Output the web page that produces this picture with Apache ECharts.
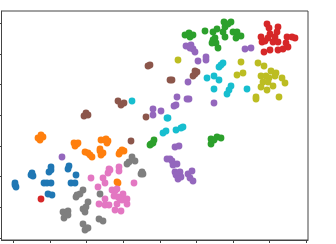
<!DOCTYPE html>
<html><head><meta charset="utf-8">
<style>html,body{margin:0;padding:0;background:#fff}#c{width:336px;height:244px}</style>
<script src="https://cdn.jsdelivr.net/npm/echarts@6/dist/echarts.min.js"></script></head>
<body><div id="c"></div>
<script>
const xTicks=[0.5,37.1,73.7,110.3,146.9,183.5,220.1,256.7,293.3];
const yTicks=[0,30.7,61.4,92.1,122.8,153.5,184.2,214.9];
const blue=[[2,55],[3,51],[2,53],[19,65],[20,62],[18,63],[38,71],[36,66],[38,68],[56,72],[55,69],[63,63],[31,55],[34,55],[38,55],[58,55],[62,55],[35,44],[39,43]];
const orange=[[25,100],[30,101],[27,98],[28,103],[61,95],[64,94],[62,92],[65,95],[72,86],[75,85],[77,83],[79,81],[88,98],[92,98],[95,97],[94,95],[93,99],[87,87],[90,85],[88,83],[87,89],[107,86],[109,88],[106,84],[111,87],[105,55],[104,56]];
const green=[[172,203],[176,205],[180,203],[177,201],[192,207],[200,206],[204,209],[211,216],[218,216],[212,211],[215,214],[210,206],[212,201],[220,206],[224,206],[228,202],[223,200],[200,198],[203,195],[205,190],[199,195],[202,200],[198,94],[198,99],[204,101],[208,100],[201,98],[138,94],[141,98],[140,95],[137,93]];
const red=[[28,39],[254,214],[256,210],[265,211],[264,206],[257,204],[262,201],[248,201],[255,200],[249,196],[252,197],[260,196],[265,196],[274,201],[279,201],[282,200],[273,195],[275,191],[270,189],[265,188],[257,188],[251,186]];
const purple=[[49,81],[154,79],[140,129],[140,123],[148,127],[173,192],[178,193],[180,189],[182,186],[177,190],[232,189],[238,190],[185,177],[193,181],[193,178],[175,156],[164,141],[163,133],[161,132],[176,139],[174,139],[201,135],[162,91],[166,92],[157,79],[159,77],[160,73],[164,74],[162,66],[167,66],[163,63],[168,61],[165,59],[175,64],[179,67],[177,60],[180,57]];
const brown=[[135,172],[137,173],[105,137],[111,135],[108,133],[73,125],[75,123],[71,122],[133,121],[118,97],[159,158],[157,158],[182,167],[184,166],[180,162],[182,164]];
const pink=[[78,60],[85,51],[90,60],[92,55],[96,69],[95,65],[97,68],[106,71],[106,67],[121,55],[99,48],[102,47],[101,42],[104,49],[110,44],[86,34],[92,39],[92,33],[96,33],[107,39],[104,34],[109,38],[114,39],[114,34],[105,41],[102,28],[108,27]];
const gray=[[116,76],[119,81],[122,77],[114,74],[129,66],[128,64],[130,64],[87,44],[70,48],[67,44],[63,41],[64,43],[75,36],[70,29],[72,26],[73,31],[50,26],[55,27],[51,20],[55,23],[70,14],[74,10],[72,8],[75,10],[86,19],[90,17]];
const olive=[[165,178],[228,176],[224,163],[230,165],[245,175],[251,172],[258,167],[263,165],[248,162],[253,162],[256,160],[262,162],[250,156],[255,156],[248,151],[260,152],[254,148],[269,160],[272,155],[243,141],[243,139],[266,141]];
const cyan=[[119,137],[154,120],[155,120],[210,175],[206,171],[208,173],[194,160],[201,162],[206,158],[201,149],[218,152],[216,148],[214,144],[234,149],[163,108],[168,110],[170,111],[150,105],[153,107]];
const groups=[blue,orange,green,red,purple,brown,pink,gray,olive,cyan];
const colors=['#1f77b4','#ff7f0e','#2ca02c','#d62728','#9467bd','#8c564b','#e377c2','#7f7f7f','#bcbd22','#17becf'];
const axisBase=(ticks)=>({type:'value',scale:false,splitLine:{show:false},splitArea:{show:false},
  axisLabel:{show:false},
  axisLine:{show:true,onZero:false,lineStyle:{color:'#444',width:1}},
  axisTick:{show:true,length:3,customValues:ticks,lineStyle:{color:'#444',width:1}}});
const chart=echarts.init(document.getElementById('c'),null,{renderer:'canvas'});
chart.setOption({animation:false,
  grid:{left:1.5,right:28,top:11,bottom:4,show:true,borderColor:'#444',borderWidth:1,backgroundColor:'#fff'},
  xAxis:Object.assign(axisBase(xTicks),{min:-11.5,max:295}),
  yAxis:Object.assign(axisBase(yTicks),{min:-2,max:227}),
  series:groups.map((d,i)=>({type:'scatter',data:d,symbol:'circle',symbolSize:6.8,itemStyle:{color:colors[i],opacity:1},silent:true}))
});
</script></body></html>
